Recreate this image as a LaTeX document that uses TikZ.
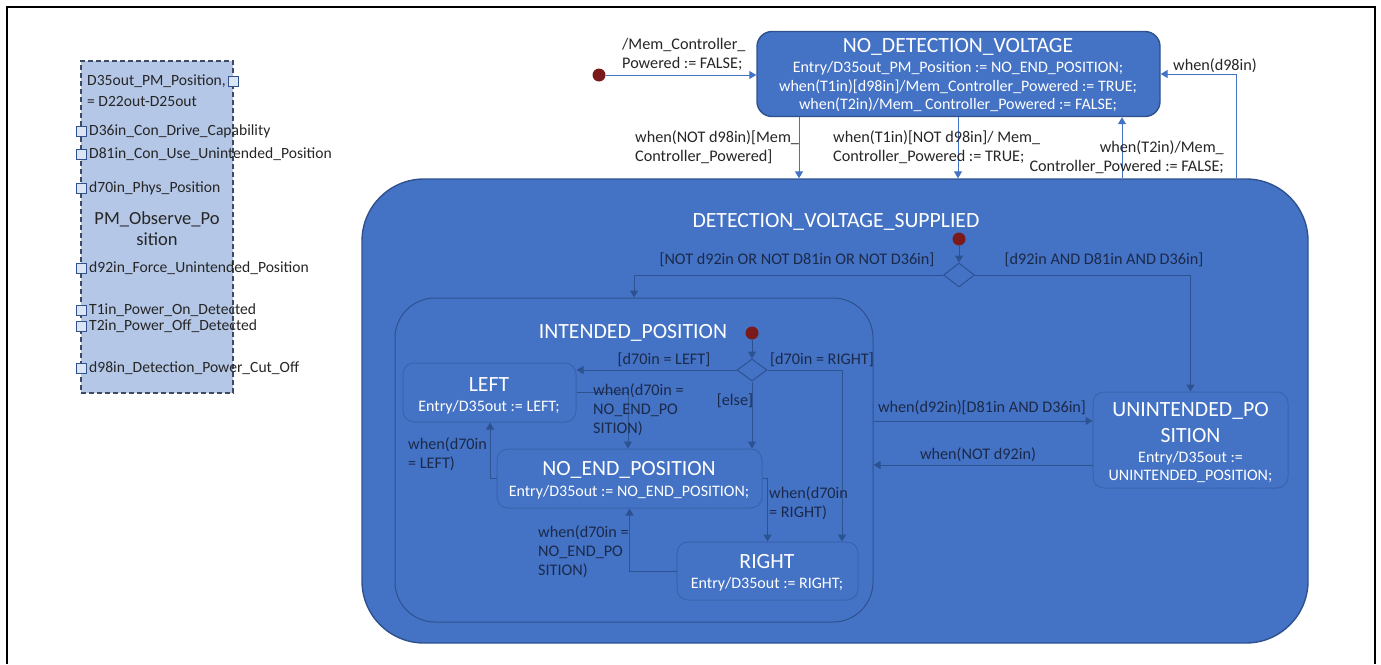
\documentclass[tikz,border=0pt]{standalone}
\usepackage{fontspec}
\setmainfont{Carlito}
\usetikzlibrary{arrows.meta,shapes.geometric}
\definecolor{stblue}{HTML}{4472C4}
\definecolor{stdark}{HTML}{2F528F}
\definecolor{inborder}{HTML}{3A63AE}
\definecolor{inline}{HTML}{2D5291}
\definecolor{inlbl}{HTML}{1B2A4A}
\definecolor{outlbl}{HTML}{262626}
\definecolor{pmfill}{HTML}{B4C7E7}
\definecolor{pmborder}{HTML}{3C4A66}
\definecolor{portfill}{HTML}{DCE5F5}
\definecolor{initc}{HTML}{7B1A1A}
\begin{document}
\begin{tikzpicture}[x=1pt,y=-1pt,
  stbox/.style={draw=inborder,fill=stblue,rounded corners=11pt,line width=1pt,inner sep=0pt},
  bigstate/.style={draw=stdark,fill=stblue,line width=1.4pt,inner sep=0pt},
  ttl/.style={font=\fontsize{21.7}{26}\selectfont,text=white,inner sep=0pt,align=center},
  ent/.style={font=\fontsize{16}{18.5}\selectfont,text=white,inner sep=0pt,align=center},
  lbl/.style={font=\fontsize{16.2}{19}\selectfont,text=outlbl,inner sep=0pt,align=left},
  ilbl/.style={font=\fontsize{16.2}{19}\selectfont,text=inlbl,inner sep=0pt,align=left},
  pmtxt/.style={font=\fontsize{15.6}{18}\selectfont,text=outlbl,inner sep=0pt,anchor=west},
  port/.style={draw=stdark,fill=portfill,minimum size=10pt,inner sep=0pt,line width=0.8pt},
  initdot/.style={circle,fill=initc,minimum size=13pt,inner sep=0pt},
  decision/.style={diamond,draw=inline,fill=stblue,minimum width=31pt,minimum height=24pt,inner sep=0pt,line width=1pt},
  outarrow/.style={draw=stblue,line width=1pt,-{Triangle[width=8pt,length=7pt]}},
  inarrow/.style={draw=inline,line width=1pt,-{Triangle[width=8pt,length=7pt]}}
]
\useasboundingbox (0,0) rectangle (1381,664);
\fill[white] (0,0) rectangle (1381,664);
\draw[line width=1.2pt] (7,664) -- (7,7) -- (1375,7) -- (1375,664);

% ---------- PM block ----------
\node[draw=pmborder,dashed,dash pattern=on 5pt off 3pt,fill=pmfill,minimum width=152pt,minimum height=332pt,inner sep=0pt,line width=1.2pt] (pm) at (157,227) {};
\node[port] (p35) at (233,81) {};
\node[port] (p36) at (81,131) {};
\node[port] (p81) at (81,154) {};
\node[port] (p70) at (81,188) {};
\node[port] (p92) at (81,268) {};
\node[port] (pT1) at (81,310) {};
\node[port] (pT2) at (81,326) {};
\node[port] (p98) at (81,368) {};
\node[pmtxt] (t35a) at (87,81) {D35out\_PM\_Position,};
\node[pmtxt] (t35b) at (87,101) {= D22out-D25out};
\node[pmtxt] (t36) at (89,131) {D36in\_Con\_Drive\_Capability};
\node[pmtxt] (t81) at (89,154) {D81in\_Con\_Use\_Unintended\_Position};
\node[pmtxt] (t70) at (89,188) {d70in\_Phys\_Position};
\node[font=\fontsize{18.5}{21}\selectfont,text=outlbl,inner sep=0pt,align=center] (pmT) at (157,228.5) {PM\_Observe\_Po\\sition};
\node[pmtxt] (t92) at (89,268) {d92in\_Force\_Unintended\_Position};
\node[pmtxt] (tT1) at (89,310) {T1in\_Power\_On\_Detected};
\node[pmtxt] (tT2) at (89,326) {T2in\_Power\_Off\_Detected};
\node[pmtxt] (t98) at (89,368) {d98in\_Detection\_Power\_Cut\_Off};

% ---------- NO_DETECTION_VOLTAGE ----------
\node[bigstate,draw=stdark,rounded corners=15pt,minimum width=403pt,minimum height=85pt] (nodv) at (958.5,74) {};
\node[ttl] (nodvT) at (958,47) {NO\_DETECTION\_VOLTAGE};
\node[ent] (nodvE) at (958,87) {Entry/D35out\_PM\_Position := NO\_END\_POSITION;\\when(T1in)[d98in]/Mem\_Controller\_Powered := TRUE;\\when(T2in)/Mem\_ Controller\_Powered := FALSE;};

\node[initdot] (i0) at (599,75) {};
\draw[outarrow] (i0) -- (i0 -| nodv.west);
\node[lbl,anchor=west] (l0) at (622,54) {/Mem\_Controller\_\\Powered := FALSE;};

% ---------- DETECTION_VOLTAGE_SUPPLIED ----------
\node[bigstate,rounded corners=62pt,minimum width=946pt,minimum height=464pt] (dvs) at (835,411) {};
\node[ttl] (dvsT) at (836,222) {DETECTION\_VOLTAGE\_SUPPLIED};

\coordinate (x1) at (799,0);
\coordinate (x2) at (958,0);
\coordinate (x3) at (1122,0);
\coordinate (x4) at (1236,0);
\draw[outarrow] (nodv.south -| x1) -- (dvs.north -| x1);
\draw[outarrow] (nodv.south -| x2) -- (dvs.north -| x2);
\draw[outarrow] (dvs.north -| x3) -- (nodv.south -| x3);
\draw[outarrow] (dvs.north -| x4) |- (nodv.east);
\node[lbl,anchor=west] (l1) at (635,147) {when(NOT d98in)[Mem\_\\Controller\_Powered]};
\node[lbl,anchor=west] (l2) at (833,147) {when(T1in)[NOT d98in]/ Mem\_\\Controller\_Powered := TRUE;};
\node[lbl,anchor=east,align=right] (l3) at (1224,157.5) {when(T2in)/Mem\_\\Controller\_Powered := FALSE;};
\node[lbl,fill=white,inner sep=1pt] (l4) at (1215,66) {when(d98in)};

% inner top-level
\node[initdot] (i1) at (959,239) {};
\node[decision] (d1) at (959,275) {};
\draw[inarrow] (i1) -- (d1.north);

% ---------- INTENDED_POSITION ----------
\node[stbox,draw=inline,rounded corners=40pt,minimum width=478pt,minimum height=324pt] (ipos) at (634,460) {};
\node[ttl] (iposT) at (633,333) {INTENDED\_POSITION};

% ---------- UNINTENDED_POSITION ----------
\node[stbox,minimum width=195pt,minimum height=96pt] (unint) at (1190.5,440) {};
\node[ttl] (unintT) at (1190.5,422.5) {UNINTENDED\_PO\\SITION};
\node[ent] (unintE) at (1190.5,467) {Entry/D35out :=\\UNINTENDED\_POSITION;};

\draw[inarrow] (d1.west) -| (ipos.north);
\draw[inarrow] (d1.east) -| (unint.north);
\node[ilbl] (lnot) at (797,260) {[NOT d92in OR NOT D81in OR NOT D36in]};
\node[ilbl] (land) at (1104,260) {[d92in AND D81in AND D36in]};

\coordinate (h1) at (0,421);
\coordinate (h2) at (0,465);
\draw[inarrow] (ipos.east |- h1) -- (unint.west |- h1);
\draw[inarrow] (unint.west |- h2) -- (ipos.east |- h2);
\node[ilbl] (l92) at (982,408) {when(d92in)[D81in AND D36in]};
\node[ilbl] (ln92) at (978,455) {when(NOT d92in)};

% ---------- inside INTENDED ----------
\node[stbox,minimum width=173pt,minimum height=59pt] (left) at (489.5,392.5) {};
\node[ttl] (leftT) at (489,385) {LEFT};
\node[ent] (leftE) at (489,407) {Entry/D35out := LEFT;};

\node[stbox,minimum width=265pt,minimum height=59pt] (noend) at (629.5,478.5) {};
\node[ttl] (noendT) at (629,470) {NO\_END\_POSITION};
\node[ent] (noendE) at (629,492) {Entry/D35out := NO\_END\_POSITION;};

\node[stbox,minimum width=181pt,minimum height=58pt] (rightb) at (767.5,571) {};
\node[ttl] (rightT) at (767,562) {RIGHT};
\node[ent] (rightE) at (767,584) {Entry/D35out := RIGHT;};

\node[initdot] (i2) at (752,333) {};
\node[decision,minimum width=30pt,minimum height=22pt] (d2) at (752,370) {};
\draw[inarrow] (i2) -- (d2.north);

\coordinate (c842) at (842,0);
\coordinate (c628) at (628,0);
\coordinate (c490) at (490,0);
\draw[inarrow] (d2.west) -- (d2.west -| left.east);
\draw[inarrow] (d2.east) -| (c842 |- rightb.north);
\draw[inarrow] (d2.south) -- (d2.south |- noend.north);
\node[ilbl] (lL) at (664,360) {[d70in = LEFT]};
\node[ilbl] (lR) at (822,360) {[d70in = RIGHT]};
\node[ilbl] (lE) at (735,401) {[else]};

\draw[inarrow] (left.east) -| (c628 |- noend.north);
\node[ilbl,anchor=west] (lLN) at (593,409.5) {when(d70in =\\NO\_END\_PO\\SITION)};
\draw[inarrow] (noend.west) -| (c490 |- left.south);
\node[ilbl,anchor=west] (lNL) at (408,454) {when(d70in\\= LEFT)};
\draw[inarrow] (noend.east) -| (rightb.north);
\node[ilbl,anchor=west] (lNR) at (769,503) {when(d70in\\= RIGHT)};
\draw[inarrow] (rightb.west) -| (noend.south);
\node[ilbl,anchor=west] (lRN) at (538,552) {when(d70in =\\NO\_END\_PO\\SITION)};
\end{tikzpicture}
\end{document}
